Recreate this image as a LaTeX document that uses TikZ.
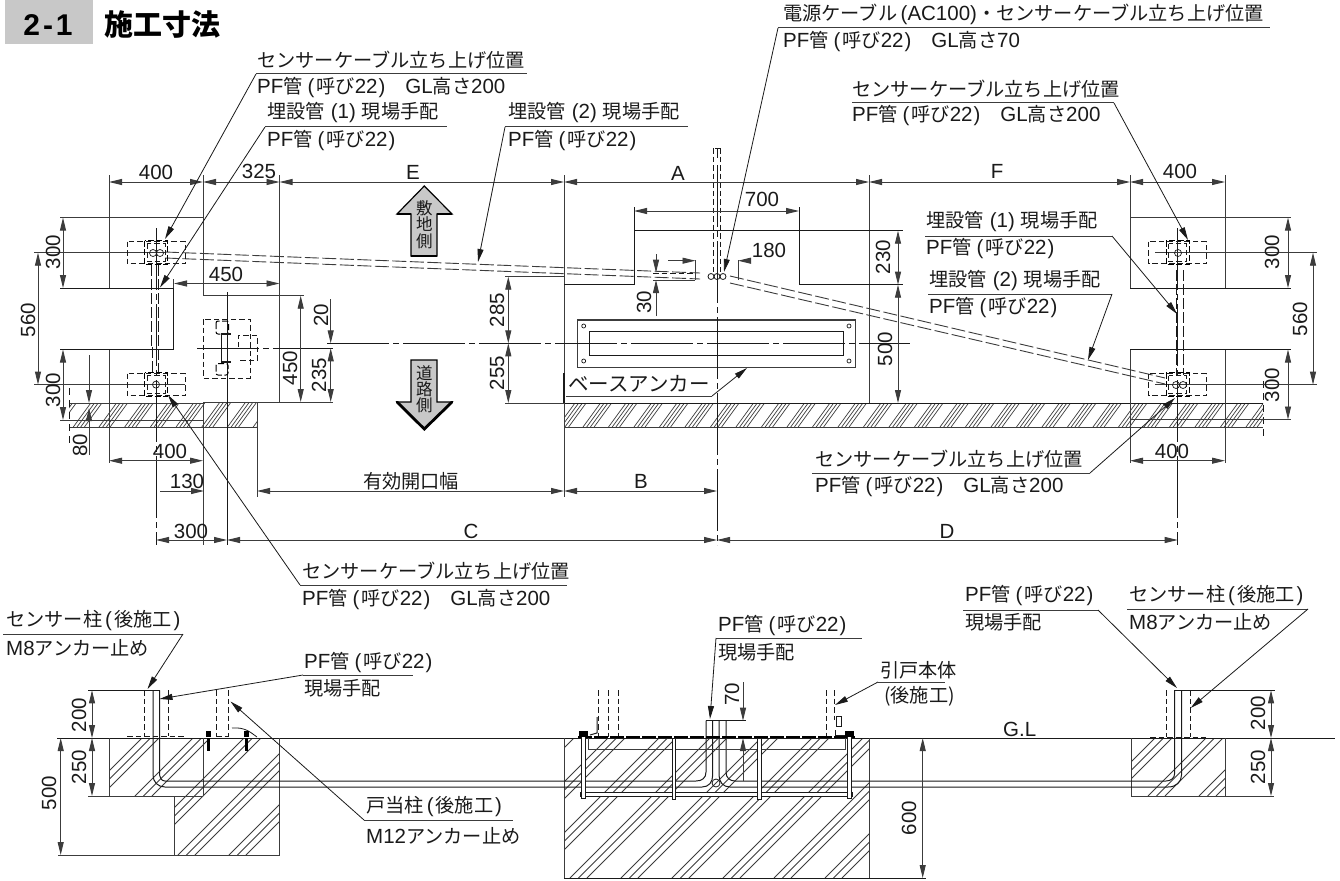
\documentclass[tikz,border=0pt]{standalone}
\usepackage{fontspec}
\setmainfont{Liberation Sans}
\newfontfamily\cjk{Noto Sans CJK JP}
\usetikzlibrary{arrows.meta}
\newcommand\JP[1]{{\cjk\fontsize{19.2}{20}\selectfont #1}}
\newcommand\JPw[1]{{\cjk\fontsize{20.5}{20}\selectfont #1}}
\newcommand\PFY{PF\JP{管}\hspace{5pt}(\hspace{2pt}\JP{呼び}22\hspace{1pt})}
\newcommand\MAI[1]{\JP{埋設管}\hspace{6pt}(#1)\hspace{6pt}\JP{現場手配}}
\newcommand\ATO{\hspace{3pt}(\hspace{2pt}\JP{後施工}\hspace{2pt})}
\definecolor{ink}{HTML}{1A1A1A}
\definecolor{dimc}{HTML}{3C3C3C}
\definecolor{titlegray}{HTML}{C8C8C8}
\tikzset{
  tip/.tip={Stealth[length=13pt,width=6pt,inset=0pt]},
  obj/.style={draw=ink,line width=1pt},
  thin/.style={draw=dimc,line width=0.9pt},
  dimln/.style={draw=dimc,line width=0.9pt,{tip}-{tip}},
  lead/.style={draw=ink,line width=0.8pt,-{tip}},
  uline/.style={draw=dimc,line width=1pt},
  hid/.style={draw=ink,line width=0.9pt,dash pattern=on 5.5pt off 3pt},
  hidk/.style={draw=black,line width=1.3pt,dash pattern=on 6pt off 2.5pt},
  pipe/.style={draw=dimc,line width=0.9pt,dash pattern=on 14pt off 3.5pt},
  cen/.style={draw=ink,line width=0.9pt,dash pattern=on 62pt off 4pt on 6pt off 4pt},
  txt/.style={inner sep=0pt,text=ink,font=\fontsize{20.5}{22}\selectfont},
  lab/.style={txt,anchor=west},
  rot/.style={txt,rotate=90},
  hat/.style={draw=dimc,line width=0.8pt},
  bigarrow/.style={fill=titlegray,draw=black,line width=1.2pt,line join=miter},
  stack/.style={inner sep=0pt,text=ink,font=\cjk\fontsize{16.5}{17}\selectfont},
}
\newcommand\dimH[3]{\draw[dimln] (#2,#1) -- (#3,#1);}
\newcommand\dimV[3]{\draw[dimln] (#1,#2) -- (#1,#3);}
% 45-degree hatch clusters: x+y=c
\newcommand\hatchbox[8]{% x1 y1 x2 y2 c-start c-end period offsets
  \begin{scope}
    \clip (#1,#2) rectangle (#3,#4);
    \foreach \c in {#5,\the\numexpr#5+#7\relax,...,#6}{
      \foreach \o in {#8}{
        \draw[hat] ({\c+\o-#2},#2) -- ({\c+\o-#4},#4);
      }
    }
  \end{scope}}
% steep hatch for the strip: x1 x2 xstart xsecond xend
\newcommand\hatchstrip[5]{%
  \begin{scope}
    \clip (#1,403) rectangle (#2,427);
    \foreach \c in {#3,#4,...,#5}{
      \foreach \o in {0,3.7,7.4,11.1}{
        \draw[hat,line width=0.7pt] ({\c+\o},427) -- ({\c+\o+17.5},403);
      }
    }
  \end{scope}}
% leader: name, underline x1 x2 y, start x, tip x y
\newcommand\leader[7]{%
  \coordinate (#1a) at (#2,#4);
  \coordinate (#1b) at (#3,#4);
  \coordinate (#1s) at (#5,#4);
  \coordinate (#1t) at (#6,#7);
  \draw[uline] (#1a) -- (#1b);
  \draw[lead] (#1s) -- (#1t);}
\newcommand\sens[2]{%
  \draw[hid] (#1-29,#2-11) rectangle (#1+29,#2+11);
  \draw[hidk] (#1-11.5,#2-12) rectangle (#1+11.5,#2+12);
  \draw[hid,line width=0.7pt] (#1-9,#2-9) rectangle (#1+9,#2+9);}
\begin{document}
\begin{tikzpicture}[x=1pt,y=-1pt]
\useasboundingbox (0,0) rectangle (1340,880);
\fill[white] (0,0) rectangle (1340,880);

% ---------- title
\fill[titlegray] (5,0) rectangle (93,44);
\node[inner sep=0pt,text=black,font=\bfseries\fontsize{30}{30}\selectfont] (ttlnum) at (48,25) {2\hspace{3pt}-\hspace{3pt}1};
\node[inner sep=0pt,text=black,anchor=west,font=\cjk\bfseries\fontsize{29}{30}\selectfont] (ttl) at (104,25) {施工寸法};

% ---------- plan: outlines and extension lines
\draw[thin] (109,175) -- (109,288);
\draw[thin] (109,349.5) -- (109,463);
\draw[thin] (203,175) -- (203,295.7) -- (304,295.7);
\draw[thin] (203,403) -- (203,545);
\draw[thin] (279.5,175) -- (279.5,402);
\draw[thin] (203,402) -- (333,402);
\draw[obj] (60,288) -- (173.5,288) -- (173.5,349.5) -- (60,349.5);
\draw[thin] (60,217.6) -- (203,217.6);
\draw[thin] (34,252.7) -- (165,252.7);
\draw[thin] (34,384.6) -- (185,384.6);
\draw[thin] (60,420) -- (203,420);
\draw[thin] (173.5,279) -- (173.5,288);
\draw[thin] (257,403) -- (257,497);

% hatched strips
\hatchstrip{69}{257}{47.6}{73.3}{260}
\hatchstrip{564}{1263}{532}{557.5}{1270}
\draw[thin] (69,427) -- (257,427);
\draw[thin] (564,427) -- (1263,427);
\draw[thin] (69,403) -- (203,403);
\draw[hid,dash pattern=on 7pt off 5pt] (69,388) -- (69,445);
\draw[hid,dash pattern=on 7pt off 5pt] (1263,381) -- (1263,440);
\draw[obj,line width=1.4pt] (564,403.3) -- (1263,403.3);

% centre plan
\draw[thin] (564,175) -- (564,497);
\draw[thin] (869,175) -- (869,403);
\draw[obj] (564,284.7) -- (634,284.7) -- (634,207);
\draw[obj] (634,230.7) -- (903,230.7);
\draw[obj] (799,207) -- (799,284.7) -- (903,284.7);
\draw[thin] (505,276.7) -- (564,276.7);
\draw[thin] (505,403) -- (564,403);
\draw[obj,line width=1.5pt] (564,373) -- (564,403);

% base plate
\draw[obj,draw=dimc,line width=1.1pt] (577.7,320) rectangle (855.3,367.3);
\draw[obj] (589.7,331.7) rectangle (843.3,355);
\foreach \px/\py in {583.7/326,849/326,583.7/361,849/361}
  \draw[obj,line width=0.7pt] (\px,\py) circle[radius=2];

% centre lines
\draw[cen] (327,343.3) -- (910,343.3);
\draw[cen] (197,348.3) -- (333,348.3);
\draw[cen] (717,165) -- (717,545);
\draw[cen] (156,228) -- (156,545);
\draw[cen] (1177.7,228) -- (1177.7,545);
\draw[obj] (227,292) -- (227,545);

% right side plan
\draw[thin] (1130,175) -- (1130,288);
\draw[thin] (1130,349.5) -- (1130,463);
\draw[thin] (1225,175) -- (1225,288);
\draw[thin] (1225,349.5) -- (1225,463);
\draw[thin] (1130,217.6) -- (1291,217.6);
\draw[obj] (1130,288) -- (1291,288);
\draw[obj] (1130,349.5) -- (1291,349.5);
\draw[thin] (1130,419.5) -- (1291,419.5);
\draw[thin] (1155,252.7) -- (1317,252.7);
\draw[thin] (1155,384.6) -- (1317,384.6);

% hidden pipes in plan
\draw[pipe] (165,252) -- (700,273);
\draw[pipe] (165,258) -- (700,279);
\draw[pipe] (730,276) -- (1165,378);
\draw[pipe] (730,283) -- (1165,384);
\draw[hid,dash pattern=on 11pt off 3pt] (151,265) -- (151,345) -- (152.7,345) -- (152.7,375);
\draw[hid,dash pattern=on 11pt off 3pt] (158.5,265) -- (158.5,375);
\draw[hid,dash pattern=on 11pt off 3pt] (1176,270) -- (1176,375);
\draw[hid,dash pattern=on 11pt off 3pt] (1183,270) -- (1183,375);
\draw[hid] (713,148) -- (713,272);
\draw[hid] (720,148) -- (720,272);
\draw[obj,line width=0.7pt] (715,148) -- (720,148) (717.5,148) -- (717.5,158);
\draw[hid,line width=0.7pt] (653,273) -- (695,273);
\draw[thin] (653,280) -- (695,280);
\draw[thin] (695.5,260) -- (695.5,280);
\draw[thin] (738,260) -- (738,280);
\foreach \cxx in {711,717,723}
  \draw[obj,line width=0.8pt] (\cxx,276.5) circle[radius=3];

% sensor boxes
\sens{156}{252.7}
\sens{156}{384.6}
\sens{1177.7}{252.7}
\sens{1177.7}{384.6}
\draw[obj,line width=0.7pt] (153,253) circle[radius=3.5] (160,253) circle[radius=3.5];
\draw[obj,line width=0.7pt] (156,384.6) circle[radius=3.5];
\draw[obj,line width=0.7pt] (1178,253) circle[radius=3.5];
\draw[obj,line width=0.7pt] (1176,385) circle[radius=3.5] (1183,385) circle[radius=3.5];

% door post
\draw[hid] (203.3,319) rectangle (250,378);
\draw[hidk,rounded corners=2pt,line width=1pt] (216,321) rectangle (228.5,334);
\draw[hidk,rounded corners=2pt,line width=1pt] (216,363.5) rectangle (228,375);
\draw[hid] (238,347) -- (238,335) -- (257,335) -- (257,360.6) -- (238,360.6);
\draw[obj,line width=1.6pt] (221,334) -- (231,334) (221,362) -- (231,362);
\draw[obj] (221,334) -- (221,362);

% ---------- plan dimensions
\dimH{182}{109}{203}
\dimH{182}{203}{279.5}
\dimH{182}{279.5}{564}
\dimH{182}{564}{869}
\dimH{182}{869}{1130}
\dimH{182}{1130}{1225}
\dimH{283.5}{174}{279.5}
\dimH{211}{634}{799}
\dimV{63}{217.6}{288}
\dimV{63}{349.5}{420}
\dimV{38}{252.7}{384.6}
\dimV{300.7}{295.7}{402}
\dimV{508.3}{276.7}{343.3}
\dimV{508.3}{343.3}{403}
\dimV{330.7}{348.3}{402}
\dimV{898}{230.7}{284.7}
\dimV{898}{284.7}{403}
\dimV{1288}{217.6}{288}
\dimV{1288}{349.5}{419.5}
\dimV{1313}{252.7}{384.6}
\dimH{460.7}{109}{203}
\dimH{460.7}{1130}{1225}
\dimH{491}{257}{564}
\dimH{491}{564}{717}
\dimH{540}{156}{227}
\dimH{540}{227}{717}
\dimH{540}{717}{1177.7}
\draw[dimln,{-tip}] (160,491) -- (204,491);
\draw[dimln,{-tip}] (330.7,299) -- (330.7,343.3);
\draw[dimln,{-tip}] (668,260.7) -- (695.5,260.7);
\draw[dimln,{-tip}] (748,260.7) -- (738,260.7);
\draw[dimln,{-tip}] (656,254) -- (656,272.7);
\draw[dimln,{-tip}] (656,316) -- (656,280);
\draw[dimln,{-tip}] (89,355) -- (89,403);
\draw[dimln,{-tip}] (89,455) -- (89,408);

\node[txt] (d01) at (156,172) {400};
\node[txt] (d02) at (259,171) {325};
\node[txt] (d03) at (413,172) {E};
\node[txt] (d04) at (678,173) {A};
\node[txt] (d05) at (997,171) {F};
\node[txt] (d06) at (1180,171) {400};
\node[txt] (d07) at (762,199) {700};
\node[txt] (d08) at (769,250) {180};
\node[txt] (d09) at (226,274) {450};
\node[txt] (d10) at (187,481) {130};
\node[txt] (d11) at (411,481) {\JP{有効開口幅}};
\node[txt] (d12) at (641,481) {B};
\node[txt] (d13) at (191,531) {300};
\node[txt] (d14) at (471,531) {C};
\node[txt] (d15) at (947,531) {D};
\node[txt] (d16) at (170,451) {400};
\node[txt] (d17) at (1172,451) {400};
\node[rot] (r01) at (53,252) {300};
\node[rot] (r02) at (28,320) {560};
\node[rot] (r03) at (53,390) {300};
\node[rot] (r04) at (80,445) {80};
\node[rot] (r05) at (290,368) {450};
\node[rot] (r06) at (321,315) {20};
\node[rot] (r07) at (319,375) {235};
\node[rot] (r08) at (497,310) {285};
\node[rot] (r09) at (497,373) {255};
\node[rot] (r10) at (644,302) {30};
\node[rot] (r11) at (883,257) {230};
\node[rot] (r12) at (885,349) {500};
\node[rot] (r13) at (1272,252) {300};
\node[rot] (r14) at (1300,319) {560};
\node[rot] (r15) at (1272,385) {300};

% big arrows
\draw[bigarrow] (424.3,186) -- (452,214) -- (437,214) -- (437,256) -- (411,256) -- (411,214) -- (397,214) -- cycle;
\draw[black,line width=2.8pt] (411,256) -- (437,256) (397,214) -- (411,214) (437,214) -- (452,214);
\draw[bigarrow] (411,360) -- (437,360) -- (437,402) -- (452,402) -- (424.3,429) -- (397,402) -- (411,402) -- cycle;
\draw[black,line width=2.8pt,line cap=round] (397,402) -- (424.3,429) -- (452,402);
\node[stack] (s1) at (424.3,208) {敷};
\node[stack] (s2) at (424.3,224) {地};
\node[stack] (s3) at (424.3,241) {側};
\node[stack] (s4) at (424.3,373) {道};
\node[stack] (s5) at (424.3,389) {路};
\node[stack] (s6) at (424.3,405) {側};

% ---------- plan leaders and notes
\leader{a}{256}{527}{74}{256}{165}{239}
\node[lab] (a1) at (257,60) {\JP{センサーケーブル立ち上げ位置}};
\node[lab] (a2) at (257,88) {\PFY\hspace{20pt}GL\JP{高さ}200};
\leader{b}{265}{447}{127}{265}{160}{287.5}
\node[lab] (b1) at (267,113) {\MAI{1}};
\node[lab] (b2) at (267,141) {\PFY};
\leader{c}{505}{688}{127}{505}{478}{262}
\node[lab] (c1) at (508,113) {\MAI{2}};
\node[lab] (c2) at (508,141) {\PFY};
\leader{e}{778}{1270}{28}{778}{724}{272}
\node[lab] (e1) at (783,14) {\JP{電源ケーブル}\,(AC100)\JP{・センサーケーブル立ち上げ位置}};
\node[lab] (e2) at (783,42) {\PFY\hspace{20pt}GL\JP{高さ}70};
\leader{f}{852}{1114}{103}{1114}{1188}{240}
\node[lab] (f1) at (852,89) {\JP{センサーケーブル立ち上げ位置}};
\node[lab] (f2) at (852,116) {\PFY\hspace{20pt}GL\JP{高さ}200};
\leader{g}{925}{1112}{236}{1112}{1177}{314}
\node[lab] (g1) at (926,222) {\MAI{1}};
\node[lab] (g2) at (926,249) {\PFY};
\leader{h}{928}{1112}{294}{1112}{1088}{360}
\node[lab] (h1) at (929,281) {\MAI{2}};
\node[lab] (h2) at (929,308) {\PFY};
\leader{i}{812}{1090}{473}{1090}{1175}{398}
\node[lab] (i1) at (815,459) {\JP{センサーケーブル立ち上げ位置}};
\node[lab] (i2) at (815,487) {\PFY\hspace{20pt}GL\JP{高さ}200};
\leader{j}{300}{567}{585}{300}{168}{395}
\node[lab] (j1) at (302,571) {\JP{センサーケーブル立ち上げ位置}};
\node[lab] (j2) at (302,600) {\PFY\hspace{20pt}GL\JP{高さ}200};
% base anchor note
\leader{k}{566}{712}{396}{712}{747}{368}
\node[lab] (k1) at (568,384) {\JPw{ベースアンカー}};

% ---------- section
\hatchbox{109}{738}{203}{796}{880}{1000}{51}{0,8.5,17}
\hatchbox{203}{738}{279.5}{796}{880}{1140}{51}{0,8.5,17}
\hatchbox{174}{796}{279.5}{855}{880}{1140}{51}{0,8.5,17}
\hatchbox{564}{738}{869.3}{878}{1295}{1760}{51}{0,8.5,17}
\hatchbox{1131}{738}{1225}{796}{1842}{2040}{51}{0,8.5,17}

\draw[obj] (57,738) -- (1335,738);
\draw[thin] (109,738) -- (109,796);
\draw[thin] (203,738) -- (203,796);
\draw[thin] (88,796) -- (203,796);
\draw[thin] (174,796) -- (174,855);
\draw[thin] (279.5,738) -- (279.5,855);
\draw[thin] (58,855) -- (279.5,855);
\draw[thin] (564,738) -- (564,878);
\draw[thin] (869.3,738) -- (869.3,878);
\draw[obj] (564,878) -- (926,878);
\draw[thin] (1131,738) -- (1131,796);
\draw[thin] (1225,738) -- (1225,796);
\draw[thin] (1131,796) -- (1274,796);
\draw[obj] (88,690.3) -- (159.5,690.3);
\draw[obj] (1174,690.3) -- (1275,690.3);

% pipes in section
\draw[obj] (153,690.3) -- (153,775) .. controls (153,782) and (158,787) .. (165,787) -- (702,787)
  .. controls (709,787) and (712.7,782) .. (712.7,775) -- (712.7,720.7);
\draw[obj] (159.5,690.3) -- (159.5,775) .. controls (159.5,778) and (162,781) .. (165,781) -- (696,781)
  .. controls (702,781) and (706,778) .. (706,772) -- (706,720.7);
\draw[obj] (719,720.7) -- (719,775) .. controls (719,782) and (723,787) .. (730,787) -- (1168,787)
  .. controls (1176,787) and (1181.5,782) .. (1181.5,775) -- (1181.5,690.3);
\draw[obj] (726,720.7) -- (726,772) .. controls (726,778) and (730,781) .. (735,781) -- (1166,781)
  .. controls (1171,781) and (1174.7,778) .. (1174.7,773) -- (1174.7,690.3);
\draw[obj] (706,720.7) -- (746,720.7);
\draw[obj,line width=0.8pt] (716,783) circle[radius=4];

% hidden posts
\draw[hid] (144.5,690.3) -- (144.5,736);
\draw[hid] (168,690.3) -- (168,736);
\draw[hid] (216,690.3) -- (216,736);
\draw[hid] (228.5,690.3) -- (228.5,736);
\draw[hid] (127,736.5) -- (185,736.5);
\draw[hid] (216,736.5) -- (229,736.5);
\draw[obj,line width=0.8pt] (232,728) .. controls (245,727) and (250,732) .. (257,737);
\fill[black] (205.5,731) rectangle (210.5,737);
\fill[black] (206.5,738) rectangle (209.5,751);
\fill[black] (243.5,731) rectangle (248.5,737);
\fill[black] (244.5,738) rectangle (247.5,751);
\draw[hid] (1166,690.3) -- (1166,737);
\draw[hid] (1190,690.3) -- (1190,737);
\draw[hid] (1150,737) -- (1206,737);

% centre hardware
\draw[hid] (598.5,690) -- (598.5,737);
\draw[hid] (608,690) -- (608,737);
\draw[hid] (618,690) -- (618,737);
\draw[hid] (826,690) -- (826,737);
\draw[hid] (834,690) -- (834,720);
\draw[obj] (597,717) -- (597,733) -- (590,735);
\draw[obj] (836,716) rectangle (841,726) (835,730) -- (835,735) -- (845,735);
\draw[black,line width=1.5pt,dash pattern=on 14pt off 2pt] (578,737) -- (855,737);
\draw[thin] (588,738) -- (588,749) -- (845,749) -- (845,738);
\draw[fill=white,draw=ink,line width=0.8pt] (580,792) rectangle (852,796);
\draw[fill=white,draw=ink,line width=0.8pt] (581.5,733) rectangle (585.5,798);
\draw[fill=white,draw=ink,line width=0.8pt] (847,733) rectangle (851,798);
\fill[black] (579,731) rectangle (588,737);
\fill[black] (845,731) rectangle (854,737);
\draw[fill=white,draw=ink,line width=0.8pt] (672,738) rectangle (675.5,799);
\draw[fill=white,draw=ink,line width=0.8pt] (757.5,738) rectangle (761,799);

% section dimensions
\dimV{60.7}{738}{855}
\dimV{92}{738}{796}
\dimV{92}{690.3}{738}
\dimV{1271}{690.3}{738}
\dimV{1271}{738}{796}
\dimV{922.7}{738}{878}
\draw[dimln,{-tip}] (743,682) -- (743,720.7);
\draw[dimln,{-tip}] (743,781) -- (743,738);
\node[rot] (t1) at (79,715) {200};
\node[rot] (t2) at (79,767) {250};
\node[rot] (t3) at (49,793) {500};
\node[rot] (t4) at (1258,713) {200};
\node[rot] (t5) at (1258,767) {250};
\node[rot] (t6) at (909,818) {600};
\node[rot] (t7) at (732,694) {70};
\node[lab] (t8) at (1003,729) {G.L};

% section leaders and notes
\leader{m}{3}{183}{634}{183}{147.5}{689}
\node[lab] (m1) at (6,621) {\JP{センサー柱}\ATO};
\node[lab] (m2) at (6,648) {M8\JP{アンカー止め}};
\leader{n}{303}{413}{675}{303}{159.5}{699}
\node[lab] (n1) at (304,663) {\PFY};
\node[lab] (n2) at (304,688) {\JP{現場手配}};
\leader{o}{364}{513}{820}{364}{230.5}{701.5}
\node[lab] (o1) at (366,807) {\JP{戸当柱}\ATO};
\node[lab] (o2) at (366,836) {M12\JP{アンカー止め}};
\leader{p}{716}{862}{638}{716}{710}{719}
\node[lab] (p1) at (718,626) {\PFY};
\node[lab] (p2) at (718,652) {\JP{現場手配}};
\leader{q}{878}{945}{682}{878}{835}{705}
\node[lab] (q1) at (880,670) {\JP{引戸本体}};
\node[lab] (q2) at (884,696) {\JP{(後施工)}};
\leader{r}{963}{1098}{610}{1098}{1177}{688}
\node[lab] (r1x) at (965,596) {\PFY};
\node[lab] (r2x) at (965,622) {\JP{現場手配}};
\leader{v}{1127}{1308}{609}{1308}{1190.7}{708}
\node[lab] (v1) at (1129,596) {\JP{センサー柱}\ATO};
\node[lab] (v2) at (1129,622) {M8\JP{アンカー止め}};
\end{tikzpicture}
\end{document}
